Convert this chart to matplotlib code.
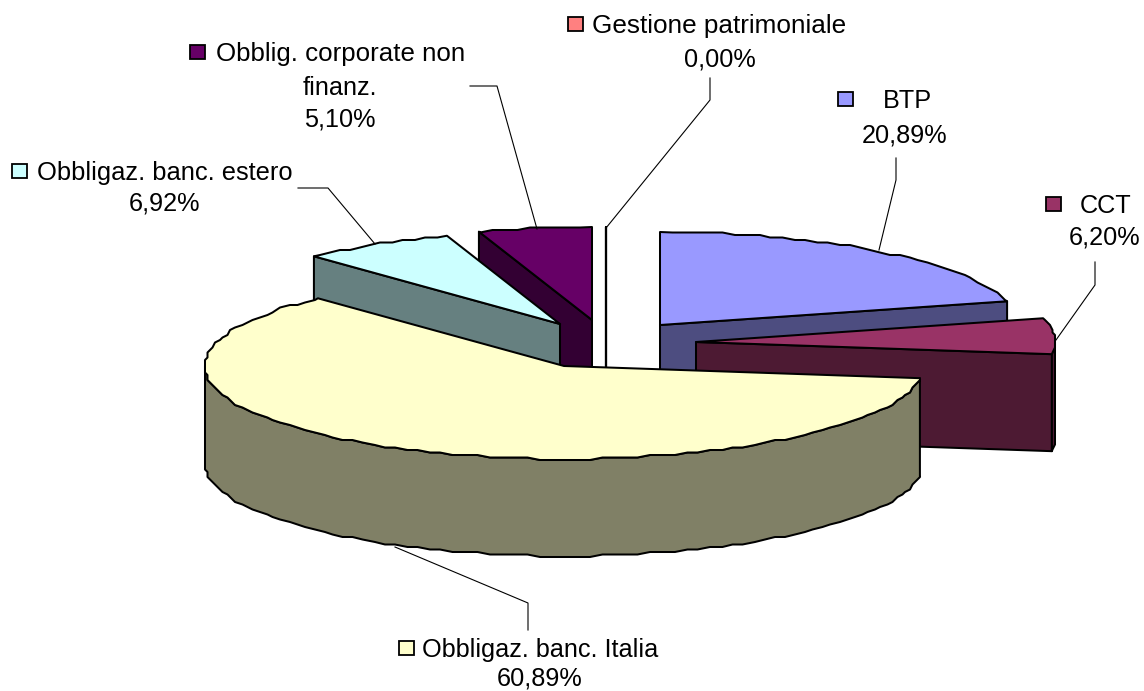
import numpy as np
import matplotlib
matplotlib.use("Agg")
import matplotlib.pyplot as plt
from matplotlib.patches import Polygon, Rectangle

names = ["BTP", "CCT", "Obbligaz. banc. Italia", "Obbligaz. banc. estero",
         "Obblig. corporate non finanz.", "Gestione patrimoniale"]
values = [20.89, 6.20, 60.89, 6.92, 5.10, 0.00]
value_labels = ["20,89%", "6,20%", "60,89%", "6,92%", "5,10%", "0,00%"]

top_colors = ["#9999ff", "#993366", "#ffffcc", "#ccffff", "#660066", "#ff8080"]
side_colors = ["#4d4d80", "#4d1a33", "#808066", "#668080", "#330033", "#804040"]
centers = [(660, 325), (696, 342), (564, 366), (560, 324), (592, 320), (606, 320)]
RX, RY, DEPTH = 359, 93, 97
draw_order = [0, 5, 4, 3, 1, 2]

plt.rcParams["font.family"] = ["Liberation Sans", "DejaVu Sans"]
fig = plt.figure(figsize=(11.44, 6.91), dpi=100)
ax = fig.add_axes([0, 0, 1, 1])
ax.set_xlim(0, 1144)
ax.set_ylim(691, 0)
ax.axis("off")

edges = np.concatenate([[0], np.cumsum(values)]) / sum(values) * 360


def pt(c, deg, dz=0):
    t = np.radians(deg)
    return c[0] + RX * np.sin(t), c[1] - RY * np.cos(t) + dz


def arc(c, a, b, dz=0):
    # sampled on a fixed angular grid and snapped, giving the slightly stepped outline
    step, grid = 2.0, 2.5
    lo, hi = min(a, b), max(a, b)
    inner = np.arange(np.ceil(lo / step + 1e-6), np.floor(hi / step - 1e-6) + 1) * step
    pts = [pt(c, lo, dz)]
    for d in inner:
        x, y = pt(c, d)
        pts.append((round(x / grid) * grid, round(y / grid) * grid + dz))
    pts.append(pt(c, hi, dz))
    return pts if a <= b else pts[::-1]


LW = 1.45
for i in draw_order:
    a, b = edges[i], edges[i + 1]
    c = centers[i]
    p = pt(c, a) if a > 180 else pt(c, b)
    if i != 2:
        quad = [p, c, (c[0], c[1] + DEPTH), (p[0], p[1] + DEPTH)]
        ax.add_patch(Polygon(quad, closed=True, fc=side_colors[i], ec="black", lw=LW, joinstyle="round"))
    lo, hi = max(a, 90), min(b, 270)
    if hi > lo:
        rim = arc(c, lo, hi) + arc(c, hi, lo, DEPTH)
        ax.add_patch(Polygon(rim, closed=True, fc=side_colors[i], ec="black", lw=LW, joinstyle="round"))
    if b > a:
        top = [c] + arc(c, a, b)
        ax.add_patch(Polygon(top, closed=True, fc=top_colors[i], ec="black", lw=LW, joinstyle="round"))
    else:
        ax.plot([c[0], c[0]], [c[1] - RY, c[1] + 47], color="black", lw=LW + 0.2, solid_capstyle="butt")

leaders = [
    [(896, 158), (896, 180), (879, 250)],
    [(1095, 262), (1095, 285), (1056, 340)],
    [(528, 630), (528, 603), (395, 547)],
    [(298, 188), (328, 188), (375, 244)],
    [(470, 86), (497, 86), (537, 229)],
    [(710, 78), (710, 100), (606, 228)],
]
for line in leaders:
    xs, ys = zip(*line)
    ax.plot(xs, ys, color="black", lw=0.8)

FS = 18.2
keys = [(838, 99), (1046, 204), (399, 648), (12, 171), (190, 52), (568, 24)]
for (kx, ky), col in zip(keys, top_colors):
    ax.add_patch(Rectangle((kx, ky - 7), 15, 14, fc=col, ec="black", lw=1.3))


def txt(x, y, s, ha="center", fs=FS):
    ax.text(x, y + 1.5, s, ha=ha, va="center", fontsize=fs, color="black")


txt(907, 99, names[0])
txt(905, 134, value_labels[0])
txt(1106, 204, names[1])
txt(1105, 236, value_labels[1])
txt(422, 648, names[2], ha="left")
txt(540, 677, value_labels[2])
txt(37, 171, names[3], ha="left", fs=18.35)
txt(164, 202, value_labels[3])
first, second = names[4].rsplit(" ", 1)
txt(216, 52, first, ha="left", fs=18.65)
txt(340, 86, second)
txt(340, 118, value_labels[4])
txt(592, 24, names[5], ha="left", fs=18.8)
txt(720, 58, value_labels[5])

fig.savefig("out.png", dpi=100)
